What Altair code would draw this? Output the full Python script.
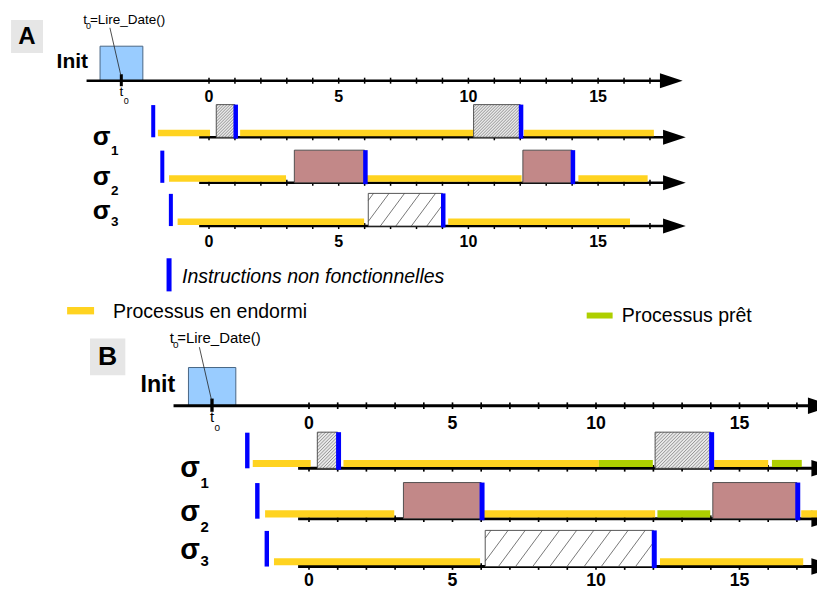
import altair as alt
import pandas as pd
import numpy as np

FONT = "Liberation Sans"
YELLOW = "#FFD320"
GREEN = "#AECF00"
BLUE = "#0000FF"

# ---------------- data (time units) ----------------
TICKS = list(range(0, 18))
TICK_LABELS = [0, 5, 10, 15]
T0 = -3.38
INIT_BOX = [-4.2, -2.55]
ROWS = ["σ1", "σ2", "σ3"]
ROW_SUB = ["1", "2", "3"]
START_MARKS = [-2.15, -1.80, -1.47]

# Diagram A
A_task_row = ["σ1", "σ1", "σ2", "σ2", "σ3"]
A_task_start = [0.28, 10.2, 3.29, 12.1, 6.14]
A_task_end = [1.0, 12.0, 6.0, 14.0, 9.0]
A_task_kind = ["fin", "fin", "damier", "damier", "large"]
A_sleep_row = ["σ1", "σ1", "σ1", "σ2", "σ2", "σ2", "σ3", "σ3"]
A_sleep_start = [-1.97, 1.2, 12.14, -1.54, 6.05, 14.24, -1.21, 9.22]
A_sleep_end = [0.04, 10.2, 17.15, 2.97, 12.05, 16.91, 5.98, 16.23]
A_ready_row = []
A_ready_start = []
A_ready_end = []

# Diagram B
B_task_row = ["σ1", "σ1", "σ2", "σ2", "σ3"]
B_task_start = [0.29, 12.06, 3.29, 14.07, 6.14]
B_task_end = [1.0, 14.0, 6.0, 17.0, 12.0]
B_task_kind = ["fin", "fin", "damier", "damier", "large"]
B_sleep_row = ["σ1", "σ1", "σ1", "σ2", "σ2", "σ2", "σ3", "σ3"]
B_sleep_start = [-1.96, 1.2, 14.12, -1.53, 6.04, 17.15, -1.22, 12.23]
B_sleep_end = [0.06, 10.1, 16.0, 2.97, 12.06, 18.8, 5.96, 17.22]
B_ready_row = ["σ1", "σ1", "σ2"]
B_ready_start = [10.1, 16.13, 12.14]
B_ready_end = [11.98, 17.17, 13.98]

LEGEND_TEXT = ["Instructions non fonctionnelles", "Processus en endormi", "Processus prêt"]

# ---------------- layout (lane units, 0 = Init axis) ----------------
LANE = {"Init": 0.0, "σ1": 1.23, "σ2": 2.22, "σ3": 3.16}
SIG_LANE = [1.224, 2.087, 2.826]
SUB_LANE = [1.535, 2.394, 3.065]

PA = dict(k=25.94, U=46.0, ox=209.0, oy=80.7, top=8, bottom=329, s=1.0, lab=3.50)
PB = dict(k=28.7, U=50.9, ox=309.0, oy=405.7, top=329, bottom=593, s=1.106, lab=3.44)

KIND_FILL = {"fin": "#E8E8E8", "damier": "#C28888", "large": "#FFFFFF"}


def hatch(x0, x1, y0, y1, k, U, m, step):
    X0, X1, Y0, Y1 = x0 * k, x1 * k, y0 * U, y1 * U
    db = m * step
    b = (np.floor((m * X0 + Y0) / db) + 1) * db
    out = []
    while b < m * X1 + Y1:
        xa = max(X0, (b - Y1) / m)
        xb = min(X1, (b - Y0) / m)
        if xb - xa > 0.3:
            out.append(dict(x=xa / k, y=(b - m * xa) / U, x2=xb / k, y2=(b - m * xb) / U))
        b += db
    return out


def build(P, letter, t_row, t_s, t_e, t_k, s_row, s_s, s_e, r_row, r_s, r_e, legend):
    k, U, s = P["k"], P["U"], P["s"]
    xs = alt.Scale(domain=[(8 - P["ox"]) / k, (817 - P["ox"]) / k], nice=False, zero=False)
    ys = alt.Scale(domain=[(P["top"] - P["oy"]) / U, (P["bottom"] - P["oy"]) / U],
                   nice=False, zero=False, reverse=True)

    def X(f):
        return alt.X(f, type="quantitative", scale=xs, axis=None)

    def Y(f):
        return alt.Y(f, type="quantitative", scale=ys, axis=None)

    L = []

    def rect(rows, **kw):
        L.append(alt.Chart(pd.DataFrame(rows)).mark_rect(clip=True, **kw).encode(
            x=X("x"), x2=alt.X2("x2"), y=Y("y"), y2=alt.Y2("y2")))

    def hrule(rows, **kw):
        L.append(alt.Chart(pd.DataFrame(rows)).mark_rule(clip=True, **kw).encode(
            x=X("x"), x2=alt.X2("x2"), y=Y("y")))

    def vrule(rows, **kw):
        L.append(alt.Chart(pd.DataFrame(rows)).mark_rule(clip=True, **kw).encode(
            x=X("x"), y=Y("y"), y2=alt.Y2("y2")))

    def drule(rows, **kw):
        if rows:
            L.append(alt.Chart(pd.DataFrame(rows)).mark_rule(clip=True, **kw).encode(
                x=X("x"), x2=alt.X2("x2"), y=Y("y"), y2=alt.Y2("y2")))

    def text(rows, size, weight="normal", style="normal", align="left"):
        L.append(alt.Chart(pd.DataFrame(rows)).mark_text(
            clip=True, font=FONT, fontSize=size * s, fontWeight=weight, fontStyle=style,
            align=align, baseline="middle", color="black").encode(
            x=X("x"), y=Y("y"), text="text:N"))

    # letter label
    rect([dict(x=-7.63, x2=-6.40, y=-1.32, y2=-0.60)], color="#E6E6E6")
    text([dict(x=-7.02, y=-0.96, text=letter)], 24, "bold", align="center")

    # Init row
    text([dict(x=-4.66, y=-0.40, text="Init")], 21, "bold", align="right")
    rect([dict(x=INIT_BOX[0], x2=INIT_BOX[1], y=-0.75, y2=0.0)],
         fill="#99CCFF", stroke="#4A6785", strokeWidth=1)
    tip_i, tip_s, alen = 18.26, 18.38, 0.875
    hrule([dict(x=-4.72, x2=tip_i - alen + 0.1, y=0.0)], color="black", strokeWidth=2.6 * s)
    vrule([dict(x=t, y=-0.065, y2=0.065) for t in TICKS], color="black", strokeWidth=1.5 * s)
    vrule([dict(x=T0, y=-0.14, y2=0.12)], color="black", strokeWidth=3 * s)
    text([dict(x=t, y=0.355, text=str(t)) for t in TICK_LABELS], 16, "bold", align="center")
    text([dict(x=T0, y=0.24, text="t")], 13.5, align="center")
    text([dict(x=-3.29, y=0.435, text="0")], 9)
    # annotation t0 = Lire_Date()
    text([dict(x=-4.85, y=-1.32, text="t")], 13.5)
    text([dict(x=-4.74, y=-1.20, text="0")], 9)
    text([dict(x=-4.59, y=-1.32, text="=Lire_Date()")], 13.5)
    drule([dict(x=-3.82, y=-1.15, x2=-3.40, y2=-0.12)], color="#222222", strokeWidth=0.8)

    # process rows: axes + ticks
    hrule([dict(x=-0.38, x2=tip_s - alen + 0.1, y=LANE[r]) for r in ROWS],
          color="black", strokeWidth=2.6 * s)
    vrule([dict(x=t, y=LANE[r] - 0.065, y2=LANE[r] + 0.065) for r in ROWS for t in TICKS],
          color="black", strokeWidth=1.5 * s)
    text([dict(x=t, y=P["lab"], text=str(t)) for t in TICK_LABELS], 16, "bold", align="center")

    # arrow heads
    arrows = [dict(x=tip_i - alen / 2, y=0.0)] + [dict(x=tip_s - alen / 2, y=LANE[r]) for r in ROWS]
    L.append(alt.Chart(pd.DataFrame(arrows)).mark_point(
        clip=True, shape="M-1,-0.66L1,0L-1,0.66Z", filled=True, opacity=1,
        size=(22.7 * s) ** 2, color="black", strokeWidth=0).encode(x=X("x"), y=Y("y")))

    # row labels
    for i, r in enumerate(ROWS):
        text([dict(x=-4.14, y=SIG_LANE[i], text="σ")], 26, "bold", align="center")
        text([dict(x=-3.78, y=SUB_LANE[i], text=ROW_SUB[i])], 13.5, "bold")

    # sleeping / ready bars
    rect([dict(x=a, x2=b, y=LANE[r] - 0.165, y2=LANE[r] - 0.025)
          for r, a, b in zip(s_row, s_s, s_e)], color=YELLOW)
    if r_row:
        rect([dict(x=a, x2=b, y=LANE[r] - 0.165, y2=LANE[r] - 0.025)
              for r, a, b in zip(r_row, r_s, r_e)], color=GREEN)

    # task boxes
    for r, a, b, kind in zip(t_row, t_s, t_e, t_k):
        y0, y1 = LANE[r] - 0.71, LANE[r]
        rect([dict(x=a, x2=b, y=y0, y2=y1)], fill=KIND_FILL[kind])
        if kind == "fin":
            drule(hatch(a, b, y0, y1, k, U, 1.0, 3.0 * s), color="#707070", strokeWidth=0.7)
        elif kind == "large":
            drule(hatch(a, b, y0, y1, k, U, 1.35, 15.5 * s), color="#555555", strokeWidth=0.8)
        rect([dict(x=a, x2=b, y=y0, y2=y1)], fill="transparent", stroke="#444444", strokeWidth=0.9)
        vrule([dict(x=b + 0.03, y=y0, y2=y1 + 0.03)], color=BLUE, strokeWidth=4.5 * s)

    # start marks
    vrule([dict(x=t, y=LANE[r] - 0.70, y2=LANE[r]) for r, t in zip(ROWS, START_MARKS)],
          color=BLUE, strokeWidth=4 * s)

    if legend:
        vrule([dict(x=-1.54, y=3.86, y2=4.58)], color=BLUE, strokeWidth=5)
        text([dict(x=-1.04, y=4.26, text=LEGEND_TEXT[0])], 19.5, style="italic")
        rect([dict(x=-5.47, x2=-4.43, y=4.92, y2=5.08)], color=YELLOW)
        text([dict(x=-3.70, y=5.02, text=LEGEND_TEXT[1])], 19.5)
        rect([dict(x=14.56, x2=15.56, y=5.04, y2=5.17)], color=GREEN)
        text([dict(x=15.91, y=5.11, text=LEGEND_TEXT[2])], 19.5)

    return alt.layer(*L).properties(width=809, height=P["bottom"] - P["top"])


chartA = build(PA, "A", A_task_row, A_task_start, A_task_end, A_task_kind,
               A_sleep_row, A_sleep_start, A_sleep_end,
               A_ready_row, A_ready_start, A_ready_end, True)
chartB = build(PB, "B", B_task_row, B_task_start, B_task_end, B_task_kind,
               B_sleep_row, B_sleep_start, B_sleep_end,
               B_ready_row, B_ready_start, B_ready_end, False)

chart = alt.vconcat(chartA, chartB, spacing=0).properties(
    padding=0, bounds="flush").configure_view(stroke=None).configure_concat(spacing=0)

chart.save("out.html", embed_options={"renderer": "svg", "actions": False})
